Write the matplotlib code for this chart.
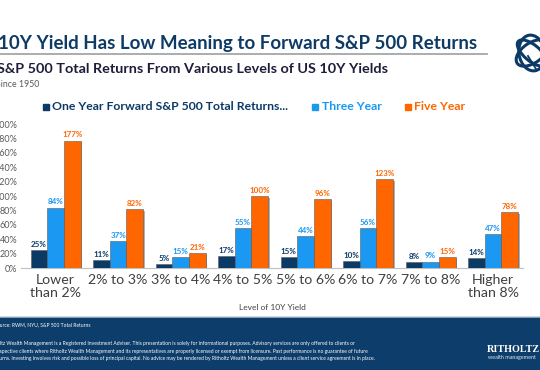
import numpy as np
import matplotlib
matplotlib.use("Agg")
import matplotlib.pyplot as plt
import matplotlib.patheffects as pe
from matplotlib.patches import Rectangle, Ellipse

# data
categories = ["Lower\nthan 2%", "2% to 3%", "3% to 4%", "4% to 5%",
              "5% to 6%", "6% to 7%", "7% to 8%", "Higher\nthan 8%"]
one_year = [25, 11, 5, 17, 15, 10, 8, 14]
three_year = [84, 37, 15, 55, 44, 56, 9, 47]
five_year = [177, 82, 21, 100, 96, 123, 15, 78]
series_names = ["One Year Forward S&P 500 Total Returns...", "Three Year", "Five Year"]
y_ticks = list(range(0, 201, 20))

NAVY = "#0c3a66"
BLUE = "#1a98f2"
ORANGE = "#ff6600"
colors = [NAVY, BLUE, ORANGE]

plt.rcParams['font.family'] = ['Lato', 'DejaVu Sans']

W, H = 540, 370
fig = plt.figure(figsize=(W / 100, H / 100), dpi=100)
fig.patch.set_facecolor("white")

def fx(x):
    return x / W

def fy(y):
    return 1 - y / H

# main axes: x 21..523 px, y 124..268 px
ax = fig.add_axes([fx(21.3), fy(268), fx(523 - 21.3), (268 - 124) / H])
x = np.arange(len(categories))
bw = 0.267
shadow = [pe.SimplePatchShadow(offset=(1.2, -1.2), shadow_rgbFace="#808080", alpha=0.6), pe.Normal()]
for i, (vals, c) in enumerate(zip([one_year, three_year, five_year], colors)):
    pos = x + (i - 1) * bw
    bars = ax.bar(pos, vals, width=bw, color=c, edgecolor="#5a5a5a", linewidth=0.4, zorder=3)
    for b in bars:
        b.set_path_effects(shadow)
    for p, v in zip(pos, vals):
        ax.text(p, v + 3, f"{v}%", ha="center", va="bottom", fontsize=5.8,
                fontweight="bold", color=c)

ax.set_xlim(-0.55, 7.48)
ax.set_ylim(0, 200)
ax.set_yticks(y_ticks)
ax.set_yticklabels([f"{t}%" for t in y_ticks], fontsize=6.5, color="#595959")
ax.set_xticks(x)
ax.set_xticklabels(categories, fontsize=10.2, color="#404040", linespacing=1.1)
ax.tick_params(axis="both", length=0, pad=4)
ax.tick_params(axis="y", pad=3)
for s in ["top", "right", "left"]:
    ax.spines[s].set_visible(False)
ax.spines["bottom"].set_color("#c0c0c0")
ax.spines["bottom"].set_linewidth(0.8)
ax.set_facecolor("none")

fig.text(fx(272), fy(308), "Level of 10Y Yield", ha="center", va="center",
         fontsize=6, color="#404040")

# titles
fig.text(fx(-2), fy(49), "10Y Yield Has Low Meaning to Forward S&P 500 Returns",
         fontsize=13.5, fontweight="bold", color="#0e3b66", va="baseline")
fig.add_artist(plt.Line2D([0, fx(487)], [fy(54), fy(54)], color="#a6a6a6", lw=1.3))
fig.text(fx(-3), fy(73), "S&P 500 Total Returns From Various Levels of US 10Y Yields",
         fontsize=10.4, fontweight="bold", color="#1d1d3a", va="baseline")
fig.text(fx(-3.5), fy(87), "Since 1950", fontsize=6.3, color="#595959", va="baseline")

# legend
leg_x = [42.5, 312, 405]
for lx, name, c in zip(leg_x, series_names, colors):
    fig.add_artist(Rectangle((fx(lx), fy(110)), fx(6), 6 / H, color=c))
    fig.text(fx(lx + 9.5), fy(107), name, fontsize=8.8, fontweight="bold",
             color=c, va="center")

# logo (globe swirl), partly outside the figure
lax = fig.add_axes([fx(510), fy(75), fx(44), 44 / H])
lax.set_xlim(-22, 22)
lax.set_ylim(-22, 22)
lax.set_aspect("equal")
lax.axis("off")
for w, h, ang in [(36, 20, 35), (36, 16, -40), (26, 36, 10)]:
    lax.add_patch(Ellipse((0, 0), w, h, angle=ang, fill=False, ec=NAVY, lw=2.2))
lax.plot([-4, 4], [-3, -16], color=NAVY, lw=1.3)

# footer
fig.add_artist(Rectangle((0, 0), 1, fy(317), color="#0d3d6b", zorder=0))
fig.add_artist(plt.Line2D([0, 1], [fy(316.5), fy(316.5)], color="#9fb3c8", lw=0.6))
fig.text(fx(-6), fy(325), "Source: RWM, NYU, S&P 500 Total Returns", fontsize=3.6,
         color="white", va="center")
disclaimer = [
    "Ritholtz Wealth Management is a Registered Investment Adviser. This presentation is solely for informational purposes. Advisory services are only offered to clients or",
    "prospective clients where Ritholtz Wealth Management and its representatives are properly licensed or exempt from licensure. Past performance is no guarantee of future",
    "returns. Investing involves risk and possible loss of principal capital. No advice may be rendered by Ritholtz Wealth Management unless a client service agreement is in place.",
]
offs = [-12, -8, -7]
for k, (line, o) in enumerate(zip(disclaimer, offs)):
    fig.text(fx(o), fy(344 + k * 7.2), line, fontsize=3.6, color="white", va="center")
fig.text(fx(487), fy(352), "RITHOLTZ", fontsize=7.3, fontweight="bold",
         family="Liberation Serif", color="white", va="baseline")
fig.text(fx(487.5), fy(358.5), "wealth management", fontsize=3.9, color="#dfe7f0", va="baseline")

fig.savefig("out.png", dpi=100)
